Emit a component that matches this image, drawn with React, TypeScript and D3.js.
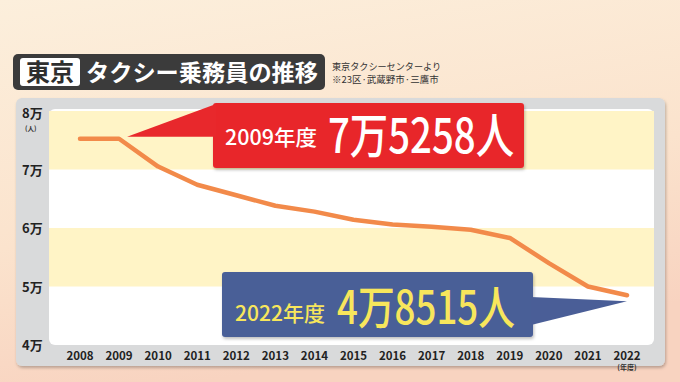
import React from "react";
import * as d3 from "d3";

const years = [2008, 2009, 2010, 2011, 2012, 2013, 2014, 2015, 2016, 2017, 2018, 2019, 2020, 2021, 2022];
const drivers = [75258, 75258, 70500, 67400, 65600, 63800, 62800, 61400, 60600, 60200, 59700, 58300, 54000, 50000, 48515];
const yTicks = [40000, 50000, 60000, 70000, 80000];
const yTickLabels = ["4万", "5万", "6万", "7万", "8万"];
const bands = [[70000, 80000], [50000, 60000]];

const W = 680, H = 382;
const JP = "'Noto Sans CJK JP', 'Noto Sans', sans-serif";

export default function App() {
  const x = d3.scalePoint<number>().domain(years).range([80, 627]);
  const y = d3.scaleLinear().domain([40000, 80000]).range([345, 111]);
  const line = d3.line<number>().x((_, i) => x(years[i])!).y((d) => y(d));

  const p09x = x(2009)!, p09y = y(drivers[1]);
  const p22x = x(2022)!, p22y = y(drivers[14]);

  return (
    <svg width={W} height={H} style={{ position: "absolute", left: 0, top: 0 }} fontFamily={JP}>
      <defs>
        <linearGradient id="bg" x1="0" y1="0" x2="0.3" y2="1">
          <stop offset="0" stopColor="#fcefdc" />
          <stop offset="0.6" stopColor="#fbe3cd" />
          <stop offset="1" stopColor="#f8d3c0" />
        </linearGradient>
        <filter id="sh" x="-5%" y="-5%" width="110%" height="115%">
          <feDropShadow dx="1" dy="2" stdDeviation="1.5" floodColor="#000" floodOpacity="0.25" />
        </filter>
      </defs>
      <rect x={0} y={0} width={W} height={H} fill="url(#bg)" />

      {/* title */}
      <rect x={13} y={54} width={312} height={36} rx={5} fill="#3b3b3b" />
      <rect x={20} y={58} width={60} height={28} rx={3} fill="#ffffff" />
      <text x={50} y={81} textAnchor="middle" fontSize={24} fontWeight={700} fill="#2e2e2e">東京</text>
      <text x={86} y={81} fontSize={23} fontWeight={700} fill="#ffffff" textLength={232} lengthAdjust="spacingAndGlyphs">タクシー乗務員の推移</text>
      <text x={332} y={69.5} fontSize={9.5} fill="#333" textLength={109} lengthAdjust="spacingAndGlyphs">東京タクシーセンターより</text>
      <text x={332} y={83} fontSize={9.5} fill="#333">※23区·武蔵野市·三鷹市</text>

      {/* panel */}
      <rect x={16} y={98} width={649} height={268} rx={6} fill="#d9dadb" filter="url(#sh)" />
      <rect x={49} y={109} width={605} height={236} rx={6} fill="#ffffff" />
      {bands.map(([a, b], i) => (
        <rect key={i} x={49} y={y(b)} width={605} height={y(a) - y(b)} fill="#fff4c6" />
      ))}

      {/* y labels */}
      {yTicks.map((t, i) => (
        <text key={t} x={22} y={y(t) + (i === 4 ? 7 : 5)} fontSize={13} fontWeight={700} fill="#222">{yTickLabels[i]}</text>
      ))}
      <text x={25} y={y(80000) + 19.5} fontSize={6.5} fontWeight={700} fill="#333">(人)</text>

      {/* x labels */}
      {years.map((yr) => (
        <text key={yr} x={x(yr)!} y={360} textAnchor="middle" fontSize={11.5} fontWeight={700} fill="#222">{yr}</text>
      ))}
      <text x={x(2022)!} y={370} textAnchor="middle" fontSize={7} fontWeight={700} fill="#333">(年度)</text>

      {/* line */}
      <path d={line(drivers) || ""} fill="none" stroke="#f28a4a" strokeWidth={4.5} strokeLinecap="round" strokeLinejoin="round" />

      {/* red callout */}
      <rect x={213} y={103} width={311} height={65} rx={3} fill="#e8282c" filter="url(#sh)" />
      <path d={`M${p09x + 8},${p09y - 2} L216,104 L216,${p09y - 2} Z`} fill="#e8282c" />
      <text x={225} y={145} fontSize={21} fontWeight={500} fill="#ffffff" textLength={92} lengthAdjust="spacingAndGlyphs">2009年度</text>
      <text x={328} y={153} fontSize={48} fontWeight={500} fill="#ffffff" textLength={186} lengthAdjust="spacingAndGlyphs">7万5258人</text>

      {/* blue callout */}
      <rect x={222} y={272} width={311} height={65} rx={3} fill="#4a5e97" filter="url(#sh)" />
      <path d={`M531,297 L${p22x},${p22y + 6} L531,325 Z`} fill="#4a5e97" />
      <text x={235} y={321} fontSize={21} fontWeight={500} fill="#f7e65c" textLength={90} lengthAdjust="spacingAndGlyphs">2022年度</text>
      <text x={337} y={324} fontSize={46} fontWeight={500} fill="#f7e65c" textLength={178} lengthAdjust="spacingAndGlyphs">4万8515人</text>
    </svg>
  );
}
